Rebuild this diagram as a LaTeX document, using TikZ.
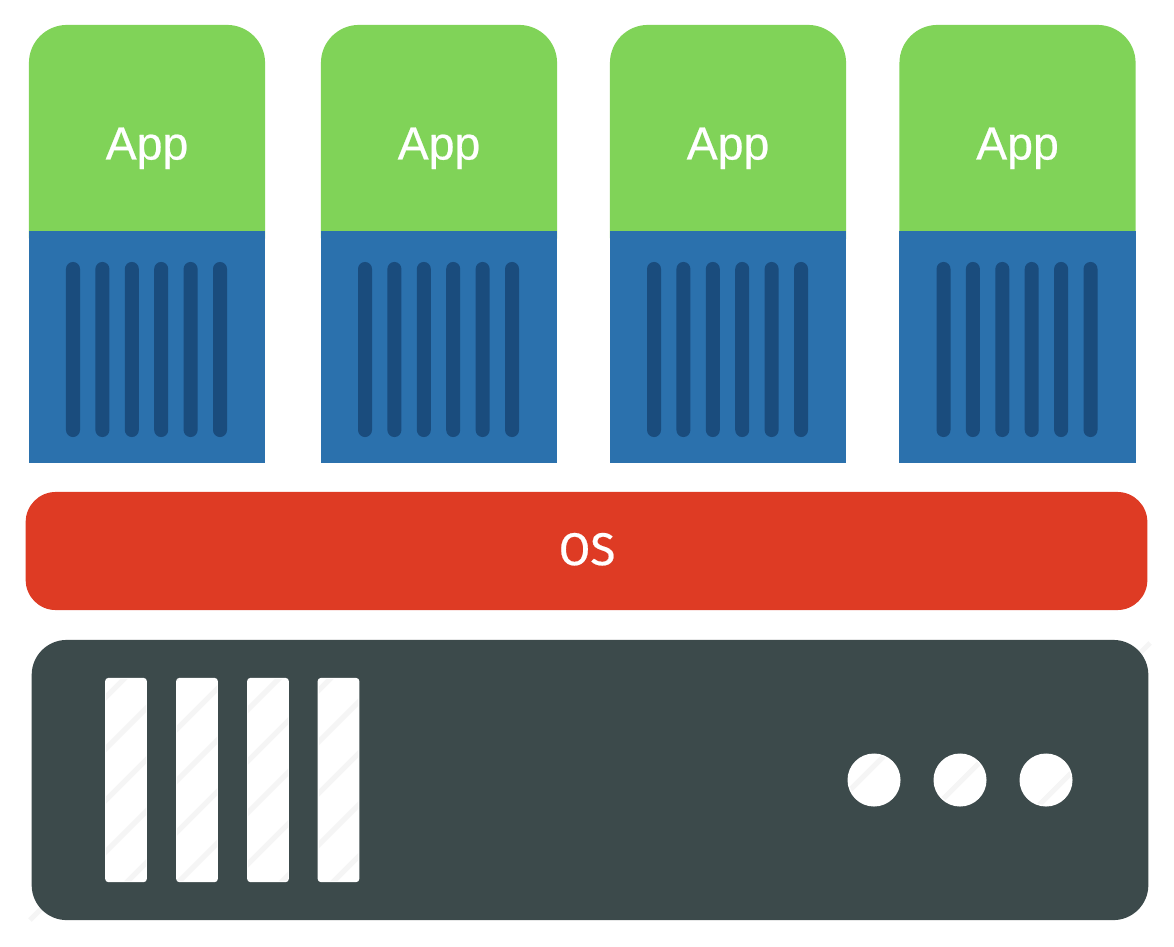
\documentclass[tikz,border=0pt]{standalone}
\usepackage{fontspec}
\setmainfont{Liberation Sans}[RawFeature={embolden=0.5}]
\newfontfamily\osfont{Fira Sans}[RawFeature={embolden=0.5}]
\definecolor{appgreen}{HTML}{80D358}
\definecolor{binblue}{HTML}{2B71AD}
\definecolor{slatblue}{HTML}{1A4C7D}
\definecolor{osred}{HTML}{DE3B24}
\definecolor{serverdark}{HTML}{3C4A4B}
\definecolor{faint}{HTML}{F5F5F5}
\begin{document}
\begin{tikzpicture}[x=.01cm,y=-.01cm,
    appbox/.style={fill=appgreen, minimum width=2.36cm, minimum height=2.5cm, inner sep=0pt, rounded corners=.38cm},
    binbox/.style={fill=binblue, minimum width=2.36cm, minimum height=2.32cm, inner sep=0pt},
    slat/.style={fill=slatblue, minimum width=.14cm, minimum height=1.75cm, inner sep=0pt, rounded corners=.07cm},
    slot/.style={fill=white, minimum width=.415cm, minimum height=2.04cm, inner sep=0pt, rounded corners=.03cm},
    lamp/.style={circle, fill=white, minimum size=.53cm, inner sep=0pt},
    applabel/.style={anchor=base, text=white, inner sep=0pt, font=\fontsize{13.2}{16}\selectfont},
    oslabel/.style={anchor=base, text=white, inner sep=0pt, font=\osfont\fontsize{13}{16}\selectfont},
    stripe/.style={faint, line width=.05cm}]
    \useasboundingbox (0,0) rectangle (1174,946);
    % the four stacks
    \foreach \x/\n in {29/a,321/b,610/c,899.5/d} {
      \node[appbox] (app\n) at ({\x+118},150) {};
      \node[binbox] (bin\n) at ({\x+118},347) {};
      \foreach \k in {0,...,5}
        \node[slat] (slat\n\k) at ({\x+44+29.4*\k},349.5) {};
      \node[applabel] (label\n) at ({\x+118},159.5) {App};
    }
    % os bar
    \node[fill=osred, minimum width=11.21cm, minimum height=1.18cm, inner sep=0pt, rounded corners=.3cm] (os) at (586.5,551) {};
    \node[oslabel] (oslabel) at (587,565) {OS};
    % server
    \draw[stripe] (30,920) -- (52,898);
    \draw[stripe] (1150,643) -- (1138,655);
    \node[fill=serverdark, minimum width=11.16cm, minimum height=2.8cm, inner sep=0pt, rounded corners=.35cm] (server) at (590,780) {};
    \foreach \x/\n in {126/a,197/b,268/c,338.5/d}
      \node[slot] (slot\n) at (\x,780) {};
    \foreach \x/\n in {874/a,960/b,1046/c}
      \node[lamp] (lamp\n) at (\x,780) {};
    \begin{scope}
      \clip (106,679) rectangle (146,881) (177,679) rectangle (217,881)
        (248,679) rectangle (288,881) (319,679) rectangle (358,881);
      \foreach \s in {803,854.5,...,1270}
        \draw[stripe] (\s-650,650) -- (\s-900,900);
    \end{scope}
    \begin{scope}
      \clip (874,780) circle (25) (960,780) circle (25) (1046,780) circle (25);
      \foreach \s in {1640,1742,1844}
        \draw[stripe] (\s-740,740) -- (\s-820,820);
    \end{scope}
\end{tikzpicture}
\end{document}
